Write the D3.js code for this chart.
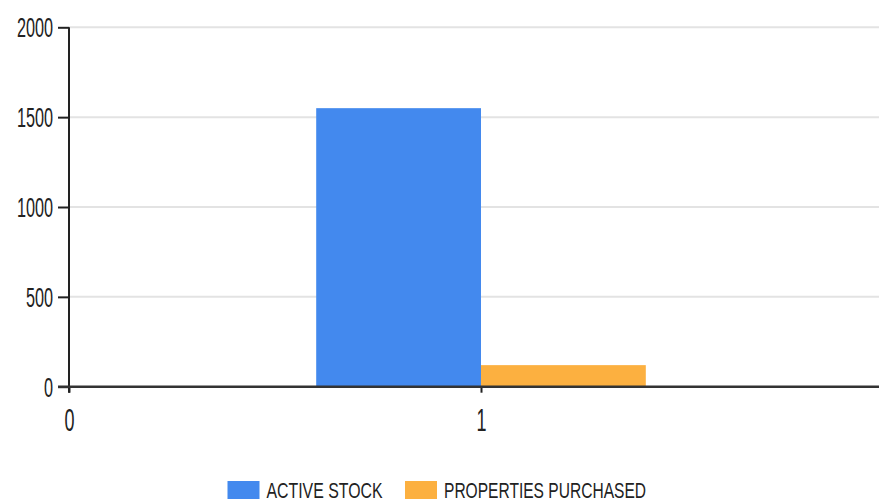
<!DOCTYPE html>
<html><head><meta charset="utf-8">
<script src="https://cdn.jsdelivr.net/npm/d3@7"></script>
<style>html,body{margin:0;padding:0;background:#fff;overflow:hidden}</style>
</head><body>
<svg id="c" width="879" height="502"></svg>
<script>
const categories = [1];
const seriesNames = ["ACTIVE STOCK", "PROPERTIES PURCHASED"];
const activeStock = [1550];
const propertiesPurchased = [120];
const seriesColors = ["#4389ee", "#fcb040"];
const yTicks = [0, 500, 1000, 1500, 2000];
const xTicks = [0, 1];

const svg = d3.select("#c");
const font = "Arial, 'Liberation Sans', sans-serif";
const x = d3.scaleLinear().domain([0, 2]).range([69, 893]);
const y = d3.scaleLinear().domain([0, 2000]).range([386.7, 27.3]);
const barW = 0.4;

// gridlines
svg.append("g").selectAll("line").data(yTicks.filter(d => d > 0)).join("line")
  .attr("x1", 69).attr("x2", 879)
  .attr("y1", d => y(d)).attr("y2", d => y(d))
  .attr("stroke", "#e3e3e3").attr("stroke-width", 2);

// bars
const series = [activeStock, propertiesPurchased];
series.forEach((vals, si) => {
  svg.append("g").selectAll("rect").data(categories).join("rect")
    .attr("x", (c) => x(c - barW + si * barW))
    .attr("width", (c) => x(c + barW) - x(c))
    .attr("y", (c, i) => y(vals[i]))
    .attr("height", (c, i) => y(0) - y(vals[i]))
    .attr("fill", seriesColors[si]);
});

// y axis
const yAxis = svg.append("g").attr("transform", "translate(69,0)")
  .call(d3.axisLeft(y).tickValues(yTicks).tickSize(11).tickPadding(0).tickFormat(d3.format("d")));
yAxis.select(".domain").remove();
yAxis.selectAll(".tick line").attr("stroke", "#222").attr("stroke-width", 2);
yAxis.selectAll(".tick text").attr("font-family", font).attr("font-size", 28)
  .attr("fill", "#222").attr("x", 0).attr("dy", "0.34em")
  .attr("transform", "translate(-16,0) scale(0.58,1)");
svg.append("line").attr("x1", 69).attr("x2", 69).attr("y1", y(2000)).attr("y2", y(0) + 6)
  .attr("stroke", "#222").attr("stroke-width", 2);

// x axis
const xAxis = svg.append("g").attr("transform", `translate(0,${y(0)})`)
  .call(d3.axisBottom(x).tickValues(xTicks).tickSize(6).tickPadding(0).tickFormat(d3.format("d")));
xAxis.select(".domain").remove();
xAxis.selectAll(".tick line").attr("stroke", "#222").attr("stroke-width", 2);
xAxis.selectAll(".tick text").attr("font-family", font).attr("font-size", 31)
  .attr("fill", "#222").attr("y", 0).attr("dy", 0)
  .attr("transform", "translate(0,44) scale(0.58,1)");
svg.append("line").attr("x1", 58).attr("x2", 879).attr("y1", y(0)).attr("y2", y(0))
  .attr("stroke", "#333").attr("stroke-width", 2.5);

// legend
const legendX = [227.5, 405];
const legendTextLen = [116, 202];
seriesNames.forEach((name, i) => {
  const g = svg.append("g").attr("transform", `translate(${legendX[i]},481)`);
  g.append("rect").attr("width", 32).attr("height", 18).attr("fill", seriesColors[i]);
  g.append("text").attr("x", 39).attr("y", 17).attr("font-family", font).attr("font-size", 22)
    .attr("fill", "#222").attr("textLength", legendTextLen[i]).attr("lengthAdjust", "spacingAndGlyphs")
    .text(name);
});
</script>
</body></html>
